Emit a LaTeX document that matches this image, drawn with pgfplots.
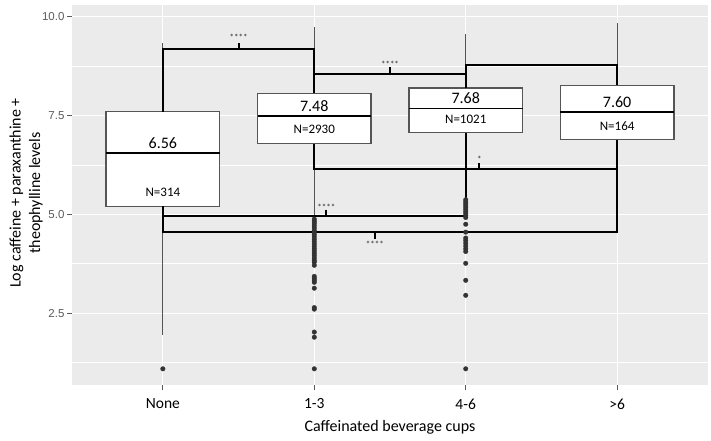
\documentclass[border=0pt]{standalone}
\usepackage{pgfplots}
\pgfplotsset{compat=1.18}
\usepgfplotslibrary{statistics}
\usepackage{fontspec}
\setmainfont{Carlito}
\newfontfamily\tickfont{Liberation Sans}
\definecolor{ggbg}{HTML}{EBEBEB}
\definecolor{boxgray}{HTML}{555555}
\definecolor{tickgray}{HTML}{5A5A5A}
\definecolor{ptgray}{HTML}{333333}
\begin{document}
\begin{tikzpicture}
\useasboundingbox (-72pt,-56pt) rectangle (639pt,385pt);
\begin{axis}[
  at={(0pt,0pt)}, anchor=south west,
  scale only axis, width=636pt, height=380pt,
  xmin=0.4, xmax=4.6, ymin=0.68, ymax=10.3,
  axis background/.style={fill=ggbg},
  axis line style={draw=none},
  xtick={1,2,3,4}, xticklabels={None,1-3,4-6,>6},
  ytick={2.5,5,7.5,10}, yticklabels={2.5,5.0,7.5,10.0},
  minor ytick={1.25,3.75,6.25,8.75},
  grid=both,
  major grid style={white, line width=1.2pt},
  minor grid style={white, line width=0.6pt},
  tick align=outside, xtick pos=bottom, ytick pos=left,
  major tick length=5pt, minor tick length=0pt,
  tick style={draw=tickgray, line width=0.8pt},
  yticklabel style={font=\tickfont\fontsize{11.5}{12}\selectfont, text=tickgray, xshift=1pt},
  xticklabel style={font=\fontsize{15.5}{16}\selectfont, text=black, yshift=-5pt},
  boxplot/draw direction=y,
  boxplot/whisker extend=0,
  boxplot/box extend=0.75,
  boxplot/every box/.style={draw=boxgray, fill=white, line width=1.2pt},
  boxplot/every median/.style={draw=black, line width=1.9pt},
  boxplot/every whisker/.style={draw=boxgray, line width=0.9pt},
  bracket/.style={black, line width=2pt, no markers, line join=miter},
  outl/.style={mark=*, mark size=2.3pt, mark options={fill=ptgray, draw=ptgray, line width=0.3pt}},
]
% None
\addplot[outl, boxplot prepared={lower whisker=1.94, lower quartile=5.2, median=6.56, upper quartile=7.6, upper whisker=9.34, draw position=1}]
  table[row sep=\\, y index=0] {y\\ 1.09\\};
% 1-3
\addplot[outl, boxplot prepared={lower whisker=4.92, lower quartile=6.79, median=7.48, upper quartile=8.06, upper whisker=9.75, draw position=2}]
  table[row sep=\\, y index=0] {y\\ 4.88\\ 4.83\\ 4.78\\ 4.72\\ 4.66\\ 4.6\\ 4.55\\ 4.49\\ 4.43\\ 4.37\\ 4.31\\ 4.25\\ 4.19\\ 4.13\\ 4.07\\ 4.01\\ 3.95\\ 3.89\\ 3.83\\ 3.79\\ 3.71\\ 3.43\\ 3.38\\ 3.33\\ 3.28\\ 3.13\\ 2.64\\ 2.6\\ 2.02\\ 1.89\\ 1.09\\};
% 4-6
\addplot[outl, boxplot prepared={lower whisker=5.42, lower quartile=7.07, median=7.68, upper quartile=8.2, upper whisker=9.57, draw position=3}]
  table[row sep=\\, y index=0] {y\\ 5.37\\ 5.32\\ 5.27\\ 5.22\\ 5.17\\ 5.12\\ 5.07\\ 5.02\\ 4.97\\ 4.92\\ 4.75\\ 4.55\\ 4.4\\ 4.34\\ 4.27\\ 4.2\\ 4.13\\ 4.06\\ 3.76\\ 3.33\\ 2.95\\ 1.09\\};
% >6
\addplot[outl, boxplot prepared={lower whisker=4.7, lower quartile=6.89, median=7.60, upper quartile=8.27, upper whisker=9.85, draw position=4}]
  coordinates {};
% brackets
\addplot[bracket] coordinates {(1,7.6) (1,9.19) (2,9.19) (2,8.06)};
\addplot[bracket] coordinates {(1.5,9.19) (1.5,9.33)};
\addplot[bracket] coordinates {(2,8.06) (2,8.56) (3,8.56) (3,8.2)};
\addplot[bracket] coordinates {(2.5,8.56) (2.5,8.73)};
\addplot[bracket] coordinates {(3,8.56) (3,8.79) (4,8.79) (4,8.27)};
\addplot[bracket] coordinates {(2,6.79) (2,6.16) (4,6.16)};
\addplot[bracket] coordinates {(3.09,6.16) (3.09,6.31)};
\addplot[bracket] coordinates {(1,5.2) (1,4.95) (3,4.95) (3,7.07)};
\addplot[bracket] coordinates {(2.08,4.95) (2.08,5.1)};
\addplot[bracket] coordinates {(1,4.95) (1,4.55) (4,4.55) (4,6.89)};
\addplot[bracket] coordinates {(2.40,4.55) (2.40,4.37)};
% significance labels
\node[anchor=base, font=\fontsize{9}{9}\selectfont, text=black!85] at (axis cs:1.5,9.41) {****};
\node[anchor=base, font=\fontsize{9}{9}\selectfont, text=black!85] at (axis cs:2.5,8.73) {****};
\node[anchor=base, font=\fontsize{9}{9}\selectfont, text=black!85] at (axis cs:3.09,6.32) {*};
\node[anchor=base, font=\fontsize{9}{9}\selectfont, text=black!85] at (axis cs:2.08,5.11) {****};
\node[anchor=base, font=\fontsize{9}{9}\selectfont, text=black!85] at (axis cs:2.40,4.15) {****};
% box labels
\node[font=\fontsize{16}{16}\selectfont] at (axis cs:1,6.8) {6.56};
\node[font=\fontsize{13}{13}\selectfont] at (axis cs:1,5.55) {N=314};
\node[font=\fontsize{16}{16}\selectfont] at (axis cs:2,7.75) {7.48};
\node[font=\fontsize{13}{13}\selectfont] at (axis cs:2,7.15) {N=2930};
\node[font=\fontsize{16}{16}\selectfont] at (axis cs:3,7.94) {7.68};
\node[font=\fontsize{13}{13}\selectfont] at (axis cs:3,7.4) {N=1021};
\node[font=\fontsize{16}{16}\selectfont] at (axis cs:4,7.84) {7.60};
\node[font=\fontsize{13}{13}\selectfont] at (axis cs:4,7.22) {N=164};
\end{axis}
\node[font=\fontsize{16}{16}\selectfont] at (318pt,-42pt) {Caffeinated beverage cups};
\node[rotate=90, align=center, font=\fontsize{16}{19.5}\selectfont] at (-46pt,192pt) {Log caffeine + paraxanthine +\\theophylline levels};
\end{tikzpicture}
\end{document}
